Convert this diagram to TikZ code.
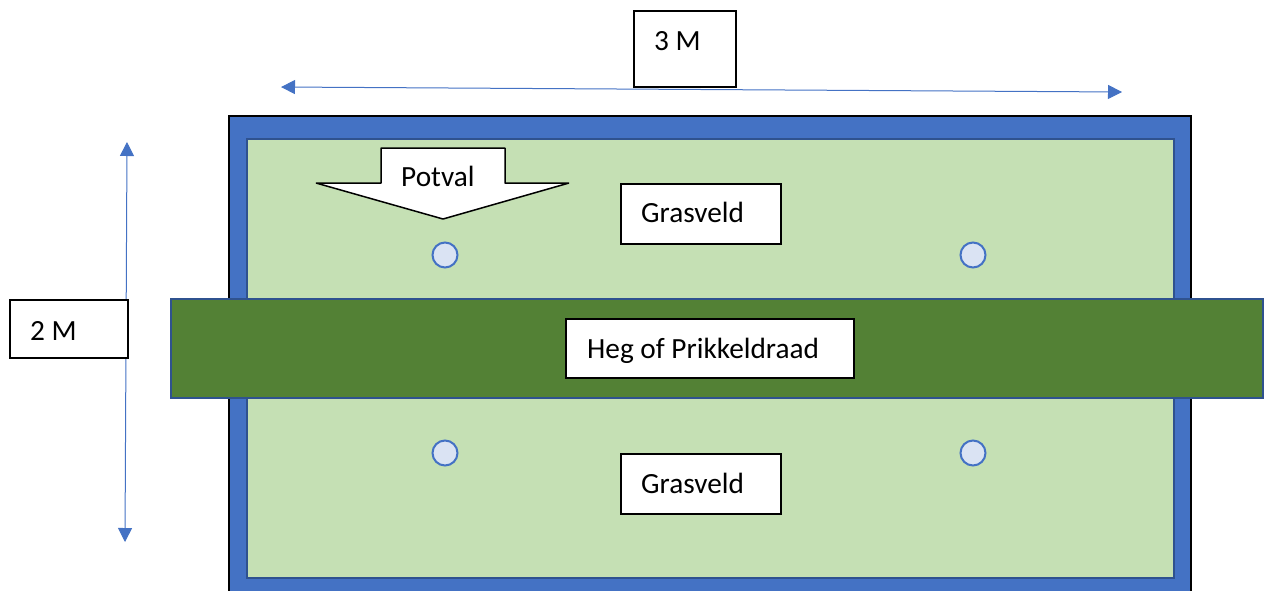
\documentclass[tikz,border=0pt]{standalone}
\usepackage{fontspec}
\setmainfont{Carlito}
\usetikzlibrary{arrows.meta}
\definecolor{frameblue}{HTML}{4472C4}
\definecolor{edgeblue}{HTML}{2F528F}
\definecolor{grass}{HTML}{C5E0B4}
\definecolor{hedge}{HTML}{538135}
\definecolor{postfill}{HTML}{DAE3F3}
\tikzset{
  labelbox/.style={draw=black, line width=1.5pt, fill=white, rectangle, inner sep=0pt},
  txt/.style={font=\fontsize{29.3}{34}\selectfont, inner sep=0pt, text=black},
  post/.style={circle, draw=frameblue, fill=postfill, line width=2pt, minimum size=25pt, inner sep=0pt},
  dimarrow/.style={draw=frameblue, line width=1pt, {Triangle[length=14pt,width=14pt]}-{Triangle[length=14pt,width=14pt]}},
}
\begin{document}
\begin{tikzpicture}[x=1pt,y=-1pt]
\useasboundingbox (0,0) rectangle (1264,590);
\clip (0,0) rectangle (1264,590);
% outer frame
\draw[fill=frameblue, draw=black, line width=2pt] (229,116) rectangle (1191,610);
% grass field
\draw[fill=grass, draw=edgeblue, line width=2pt] (247,139) rectangle (1174,578);
% posts
\node[post] (p1) at (445,255) {};
\node[post] (p2) at (973,255) {};
\node[post] (p3) at (445,453) {};
\node[post] (p4) at (973,453) {};
% hedge
\draw[fill=hedge, draw=edgeblue, line width=2pt] (171,299) rectangle (1263,398);
% hedge label
\node[labelbox, minimum width=288pt, minimum height=59pt] (heg) at (710,348.5) {};
\node[txt, anchor=base west] (hegt) at (587,358) {Heg of Prikkeldraad};
% grasveld labels
\node[labelbox, minimum width=160pt, minimum height=60pt] (g1) at (701,214) {};
\node[txt, anchor=base west] (g1t) at (641,222) {Grasveld};
\node[labelbox, minimum width=160pt, minimum height=60pt] (g2) at (701,484) {};
\node[txt, anchor=base west] (g2t) at (641,493) {Grasveld};
% potval arrow
\draw[fill=white, draw=black, line width=1.5pt, line join=bevel]
  (381,148) -- (505,148) -- (505,183) -- (569,183) -- (443,219) -- (316,183) -- (381,183) -- cycle;
\node[txt, anchor=base west] (potval) at (401,186) {Potval};
% 3 M dimension
\coordinate (hl) at (281,87);
\coordinate (hr) at (1122,92);
\draw[dimarrow] (hl) -- (hr);
\node[labelbox, minimum width=102pt, minimum height=76pt] (m3) at (685,49) {};
\node[txt, anchor=base west] (m3t) at (654,50) {3 M};
% 2 M dimension
\coordinate (vt) at (127,142);
\coordinate (vb) at (125,542);
\draw[dimarrow] (vt) -- (vb);
\node[labelbox, minimum width=118pt, minimum height=58pt] (m2) at (69,329) {};
\node[txt, anchor=base west] (m2t) at (30,340) {2 M};
\end{tikzpicture}
\end{document}
